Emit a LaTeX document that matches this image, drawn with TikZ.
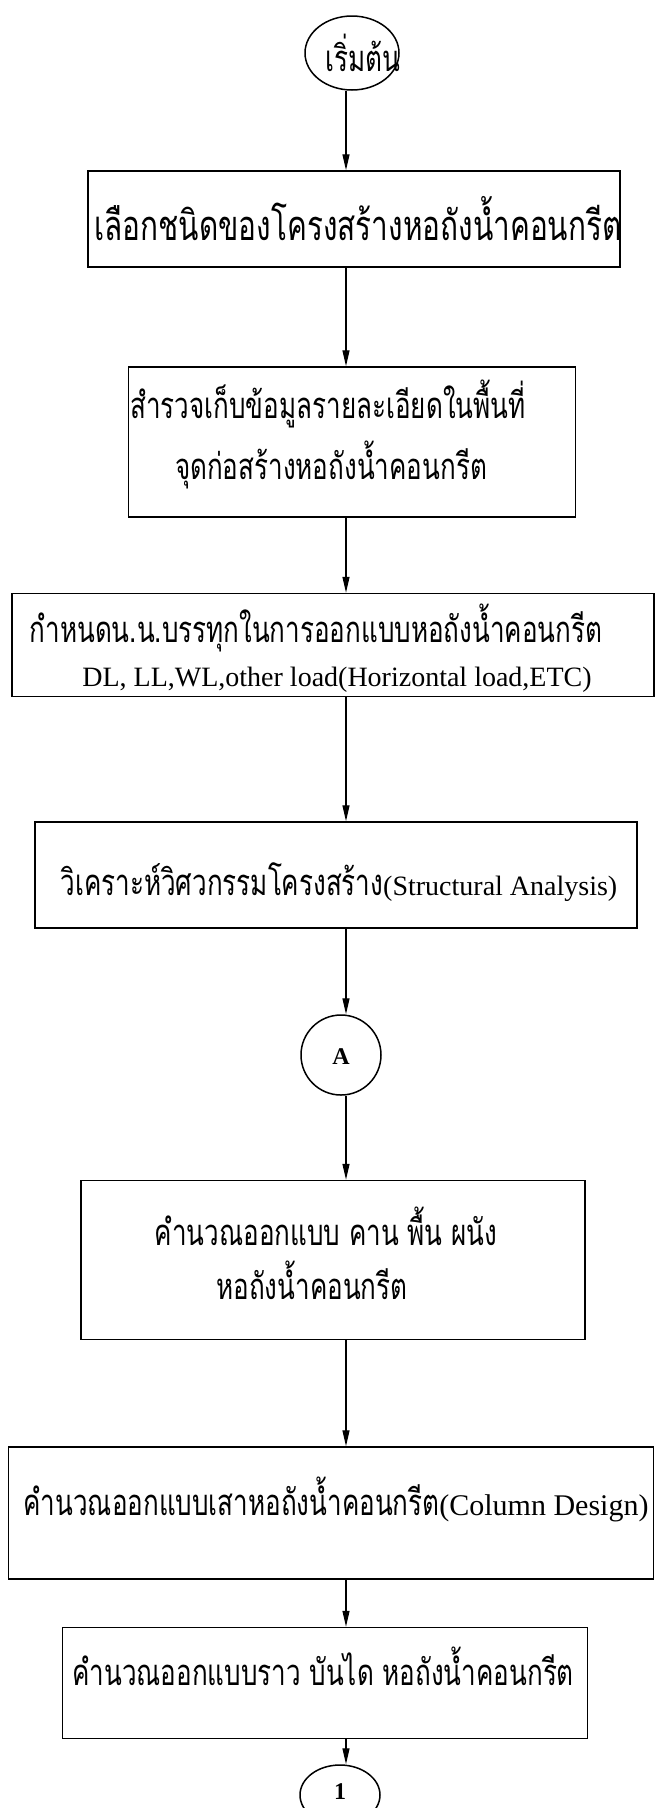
\documentclass[tikz,border=0pt]{standalone}
\usepackage{fontspec}
\setmainfont{Liberation Serif}
\newfontfamily\thai[Script=Thai,Scale=1.3,FakeStretch=0.715]{Loma}
\usetikzlibrary{arrows.meta,shapes.geometric,calc}
\begin{document}
\begin{tikzpicture}[x=1pt,y=1pt,
  box/.style={draw, line width=1.5pt, rectangle, inner sep=0pt},
  txt/.style={inner sep=0pt, font=\fontsize{28}{30}\selectfont},
  bigtxt/.style={inner sep=0pt, font=\fontsize{32}{34}\selectfont},
  arr/.style={line width=1.3pt, -{Triangle[length=16pt,width=7pt]}},
  conn/.style={draw, line width=1.5pt, inner sep=0pt}
]
\useasboundingbox (0,0) rectangle (656,-1808);
\coordinate (ax) at (346,0);

% start
\node[conn, ellipse, minimum width=94pt, minimum height=74pt] (e0) at (352,-53) {};
\node[txt] (t0) at (363,-53) {\thai เริ่มต้น};

% box 1
\node[box, minimum width=532pt, minimum height=96pt] (b1) at (354,-219) {};
\node[bigtxt] (t1) at (358,-219) {\thai เลือกชนิดของโครงสร้างหอถังน้ำคอนกรีต};

% box 2
\node[box, minimum width=447pt, minimum height=150pt] (b2) at (352,-442) {};
\node[txt] (t2a) at (328,-404) {\thai สำรวจเก็บข้อมูลรายละเอียดในพื้นที่};
\node[txt] (t2b) at (331,-465) {\thai จุดก่อสร้างหอถังน้ำคอนกรีต};

% box 3
\node[box, minimum width=642pt, minimum height=103pt] (b3) at (333,-645) {};
\node[txt] (t3a) at (316,-628) {\thai กำหนดน.น.บรรทุกในการออกแบบหอถังน้ำคอนกรีต};
\node[txt] (t3b) at (337,-680) {DL, LL,WL,other load(Horizontal load,ETC)};

% box 4
\node[box, minimum width=602pt, minimum height=106pt] (b4) at (336,-875) {};
\node[txt] (t4) at (339,-882) {{\thai วิเคราะห์วิศวกรรมโครงสร้าง}(Structural Analysis)};

% connector A
\node[conn, circle, minimum size=80pt] (cA) at (341,-1055) {};
\node[txt, font=\fontsize{24}{26}\selectfont\bfseries] (tA) at (341,-1057) {A};

% box 5
\node[box, minimum width=504pt, minimum height=159pt] (b5) at (333,-1260) {};
\node[txt] (t5a) at (326,-1226) {\thai คำนวณออกแบบ คาน พื้น ผนัง};
\node[txt] (t5b) at (312,-1280) {\thai หอถังน้ำคอนกรีต};

% box 6
\node[box, minimum width=645pt, minimum height=132pt] (b6) at (331,-1513) {};
\node[txt] (t6) at (336,-1499) {{\thai คำนวณออกแบบเสาหอถังน้ำคอนกรีต}{\fontsize{30}{32}\selectfont(Column Design)}};

% box 7
\node[box, minimum width=525pt, minimum height=111pt] (b7) at (325,-1683) {};
\node[txt] (t7) at (323,-1666) {\thai คำนวณออกแบบราว บันได หอถังน้ำคอนกรีต};

% connector 1
\node[conn, ellipse, minimum width=80pt, minimum height=60pt] (c1) at (340,-1795) {};
\node[txt, font=\fontsize{24}{26}\selectfont\bfseries] (t1c) at (340,-1792) {1};

% arrows
\draw[arr] (e0.south -| ax) -- (b1.north -| ax);
\draw[arr] (b1.south -| ax) -- (b2.north -| ax);
\draw[arr] (b2.south -| ax) -- (b3.north -| ax);
\draw[arr] (b3.south -| ax) -- (b4.north -| ax);
\draw[arr] (b4.south -| ax) -- (cA.north -| ax);
\draw[arr] (cA.south -| ax) -- (b5.north -| ax);
\draw[arr] (b5.south -| ax) -- (b6.north -| ax);
\draw[arr] (b6.south -| ax) -- (b7.north -| ax);
\draw[arr] (b7.south -| ax) -- (c1.north -| ax);
\end{tikzpicture}
\end{document}
